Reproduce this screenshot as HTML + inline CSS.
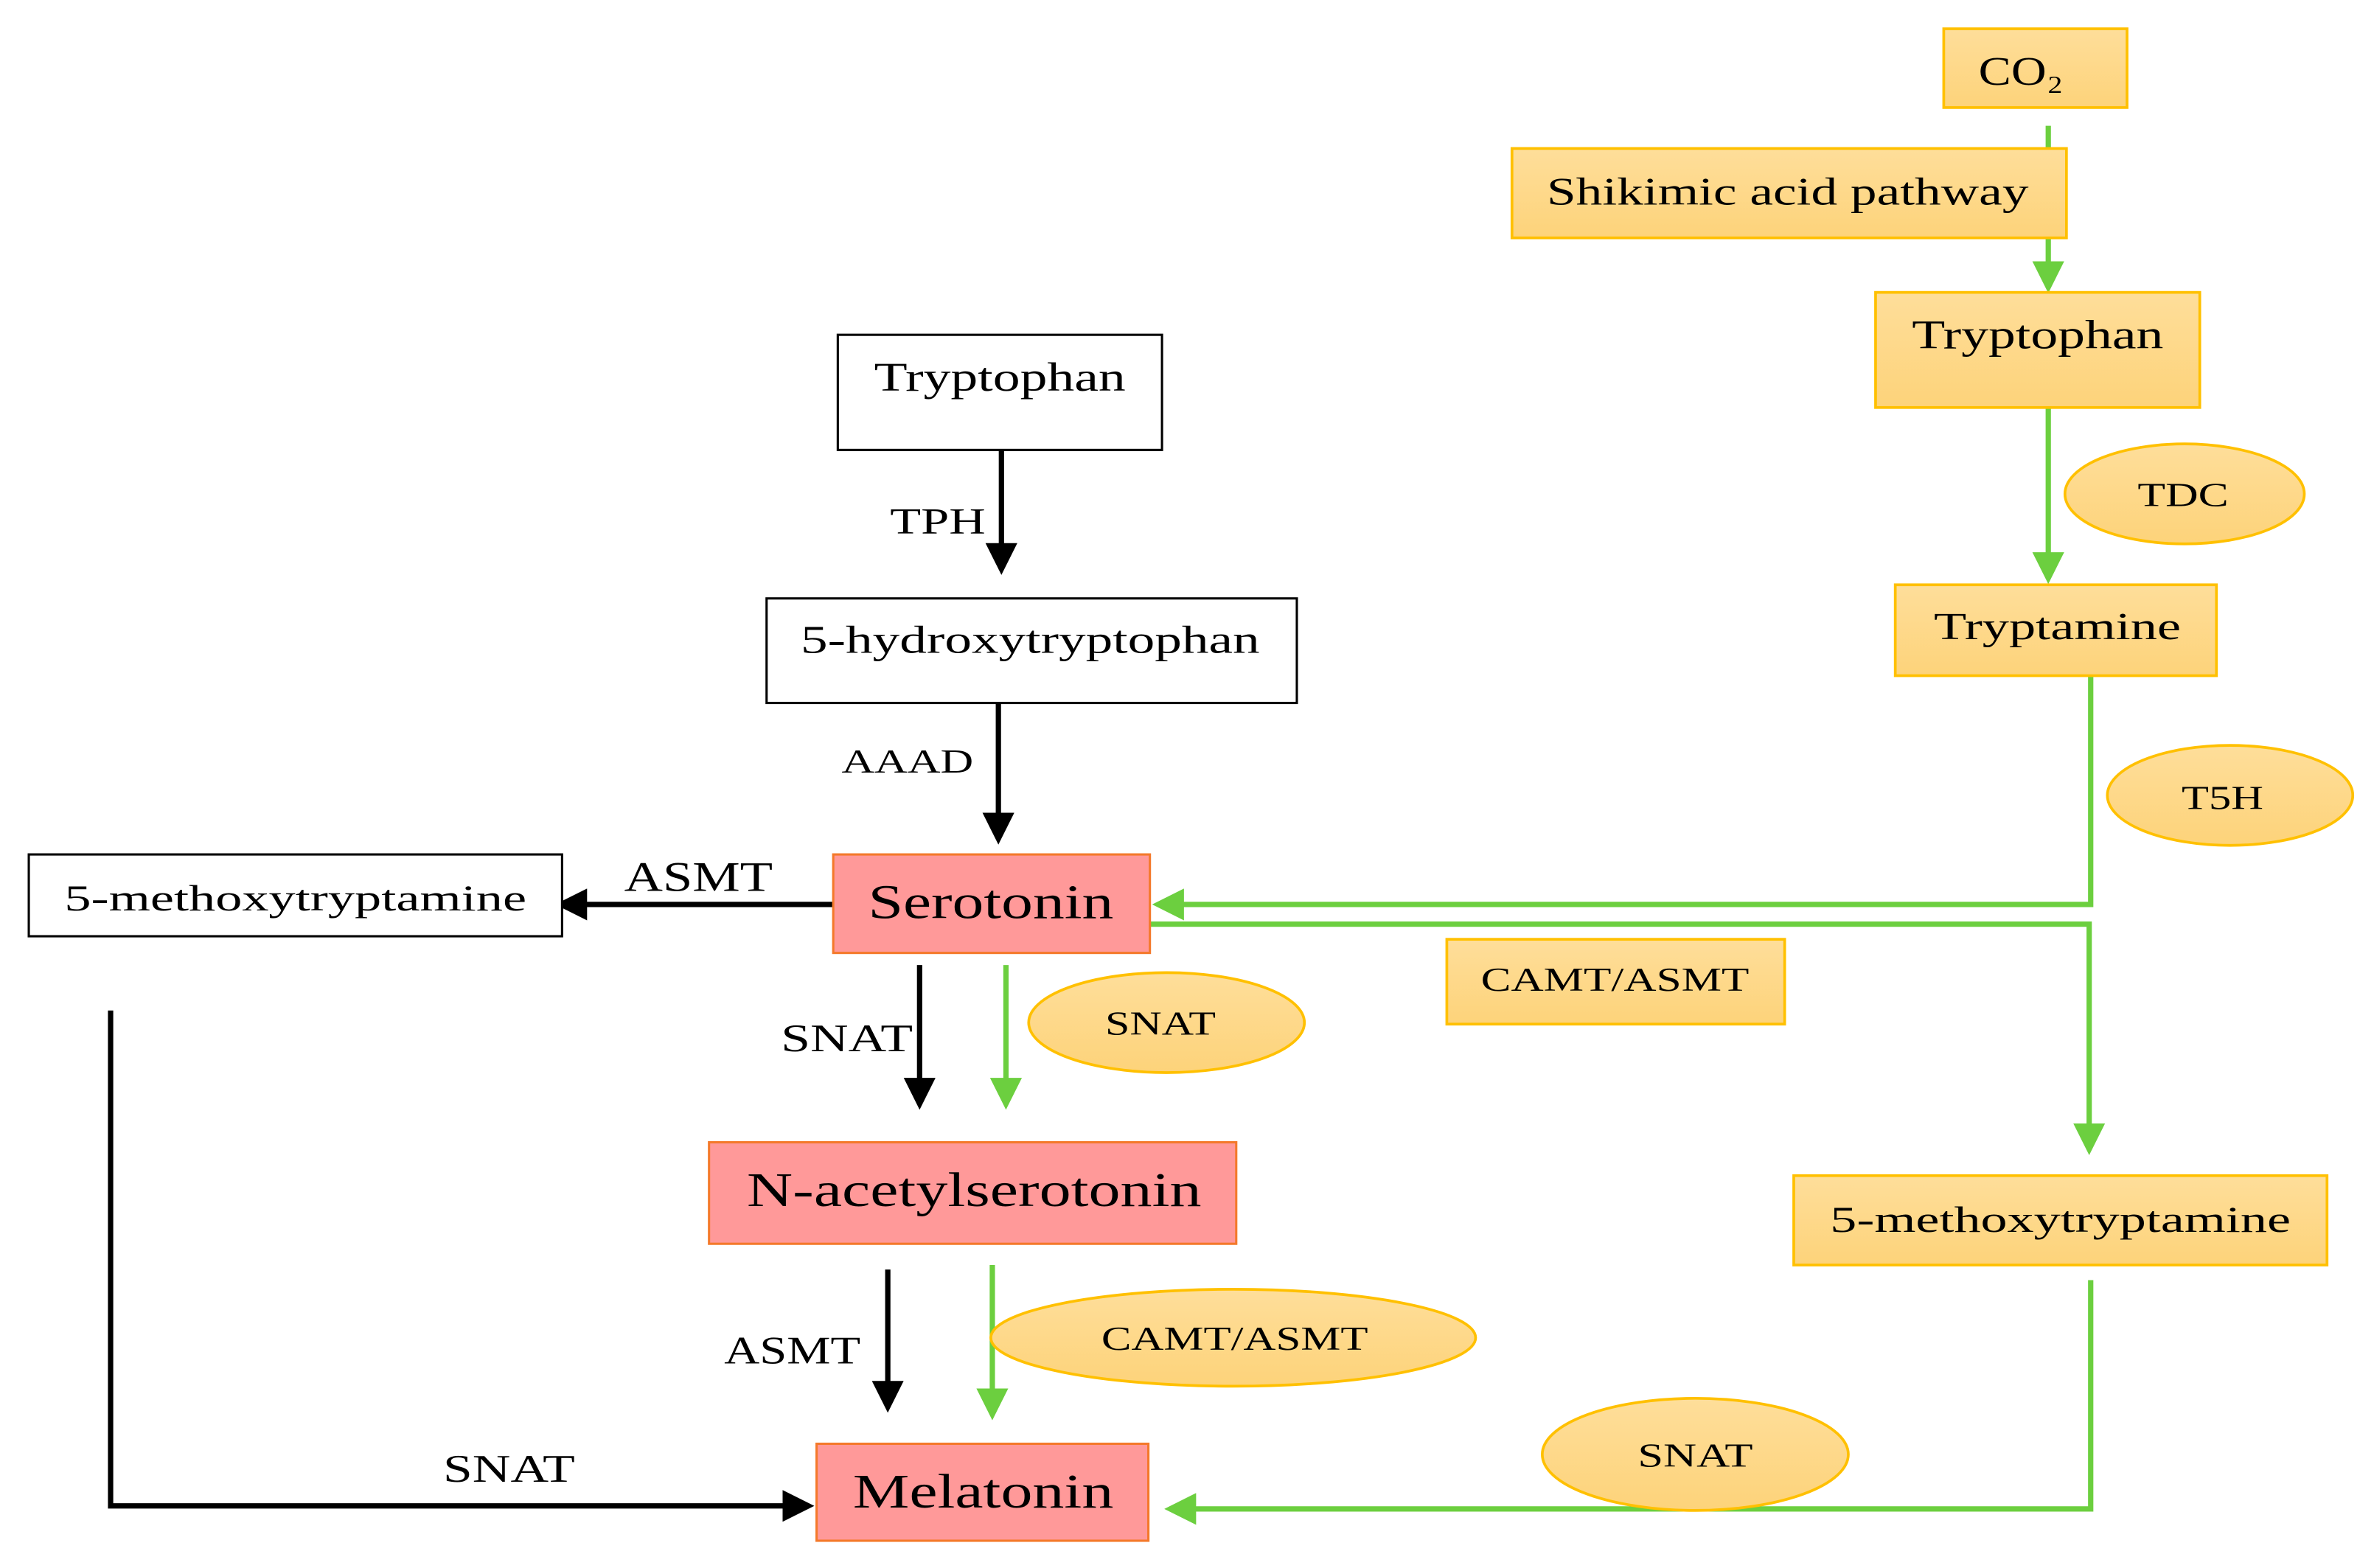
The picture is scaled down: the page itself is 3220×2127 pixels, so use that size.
<!DOCTYPE html>
<html><head><meta charset="utf-8"><style>html,body{margin:0;padding:0;background:#fff}svg{display:block}</style></head>
<body>
<svg width="3220" height="2127" viewBox="0 0 1567 1035" preserveAspectRatio="none" xmlns="http://www.w3.org/2000/svg" font-family="'Liberation Serif', serif" text-anchor="middle">
<defs>
<linearGradient id="og" x1="0" y1="0" x2="0" y2="1"><stop offset="0" stop-color="#FEDE9A"/><stop offset="1" stop-color="#FDD37A"/></linearGradient>
<marker id="ab" markerWidth="6" markerHeight="6" refX="5" refY="3" orient="auto" markerUnits="strokeWidth"><path d="M0,0 L6,3 L0,6 z" fill="#000"/></marker>
<marker id="ag" markerWidth="6" markerHeight="6" refX="5" refY="3" orient="auto" markerUnits="strokeWidth"><path d="M0,0 L6,3 L0,6 z" fill="#6CCF3F"/></marker>
</defs>
<g fill="none" stroke="#6CCF3F" stroke-width="3.5">
<path d="M1352,83 V190" marker-end="url(#ag)"/>
<path d="M1352,269 V382" marker-end="url(#ag)"/>
<path d="M1380,443 V597 H764" marker-end="url(#ag)"/>
<path d="M759,610 H1379 V759" marker-end="url(#ag)"/>
<path d="M1380,845 V996 H772" marker-end="url(#ag)"/>
<path d="M664,637 V729" marker-end="url(#ag)"/>
<path d="M655,835 V934" marker-end="url(#ag)"/>
</g>
<g fill="none" stroke="#000" stroke-width="3.5">
<path d="M661,293 V376" marker-end="url(#ab)"/>
<path d="M659,464 V554" marker-end="url(#ab)"/>
<path d="M550,597 H370" marker-end="url(#ab)"/>
<path d="M607,637 V729" marker-end="url(#ab)"/>
<path d="M586,838 V929" marker-end="url(#ab)"/>
<path d="M73,667 V994 H534" marker-end="url(#ab)"/>
</g>
<g fill="url(#og)" stroke="#FFC000" stroke-width="1.8">
<rect x="1283" y="19" width="121" height="52"/>
<rect x="998" y="98" width="366" height="59"/>
<rect x="1238" y="193" width="214" height="76"/>
<rect x="1251" y="386" width="212" height="60"/>
<rect x="955" y="620" width="223" height="56"/>
<rect x="1184" y="776" width="352" height="59"/>
<ellipse cx="1442" cy="326" rx="79" ry="33"/>
<ellipse cx="1472" cy="525" rx="81" ry="33"/>
<ellipse cx="770" cy="675" rx="91" ry="33"/>
<ellipse cx="814" cy="883" rx="160" ry="32"/>
<ellipse cx="1119" cy="960" rx="101" ry="37"/>
</g>
<g fill="#fff" stroke="#000" stroke-width="1.5">
<rect x="553" y="221" width="214" height="76"/>
<rect x="506" y="395" width="350" height="69"/>
<rect x="19" y="564" width="352" height="54"/>
</g>
<g fill="#FF9999" stroke="#F4792B" stroke-width="1.5">
<rect x="550" y="564" width="209" height="65"/>
<rect x="468" y="754" width="348" height="67"/>
<rect x="539" y="953" width="219" height="64"/>
</g>
<g fill="#000" font-size="24" lengthAdjust="spacingAndGlyphs">
<text x="1334" y="56" font-size="27" textLength="56" lengthAdjust="spacingAndGlyphs">CO₂</text>
<text x="1180" y="135" font-size="26" textLength="318" lengthAdjust="spacingAndGlyphs">Shikimic acid pathway</text>
<text x="1345" y="230" font-size="27" textLength="166" lengthAdjust="spacingAndGlyphs">Tryptophan</text>
<text x="1441" y="334" font-size="22" textLength="60" lengthAdjust="spacingAndGlyphs">TDC</text>
<text x="1358" y="422" font-size="25" textLength="163" lengthAdjust="spacingAndGlyphs">Tryptamine</text>
<text x="1467" y="534" font-size="22" textLength="54" lengthAdjust="spacingAndGlyphs">T5H</text>
<text x="1066" y="654" font-size="22" textLength="177" lengthAdjust="spacingAndGlyphs">CAMT/ASMT</text>
<text x="1360" y="813" font-size="24" textLength="304" lengthAdjust="spacingAndGlyphs">5-methoxytryptamine</text>
<text x="1119" y="968" font-size="22" textLength="76" lengthAdjust="spacingAndGlyphs">SNAT</text>
<text x="766" y="683" font-size="22" textLength="73" lengthAdjust="spacingAndGlyphs">SNAT</text>
<text x="815" y="891" font-size="22" textLength="176" lengthAdjust="spacingAndGlyphs">CAMT/ASMT</text>
<text x="660" y="258" font-size="27" textLength="166" lengthAdjust="spacingAndGlyphs">Tryptophan</text>
<text x="619" y="352" font-size="24" textLength="63" lengthAdjust="spacingAndGlyphs">TPH</text>
<text x="680" y="431" font-size="26" textLength="303" lengthAdjust="spacingAndGlyphs">5-hydroxytryptophan</text>
<text x="599" y="510" font-size="22" textLength="87" lengthAdjust="spacingAndGlyphs">AAAD</text>
<text x="654" y="606" font-size="32" textLength="162" lengthAdjust="spacingAndGlyphs">Serotonin</text>
<text x="461" y="588" font-size="28" textLength="98" lengthAdjust="spacingAndGlyphs">ASMT</text>
<text x="195" y="601" font-size="24" textLength="305" lengthAdjust="spacingAndGlyphs">5-methoxytryptamine</text>
<text x="559" y="694" font-size="26" textLength="87" lengthAdjust="spacingAndGlyphs">SNAT</text>
<text x="643" y="796" font-size="32" textLength="300" lengthAdjust="spacingAndGlyphs">N-acetylserotonin</text>
<text x="523" y="900" font-size="26" textLength="90" lengthAdjust="spacingAndGlyphs">ASMT</text>
<text x="649" y="995" font-size="32" textLength="172" lengthAdjust="spacingAndGlyphs">Melatonin</text>
<text x="336" y="978" font-size="26" textLength="87" lengthAdjust="spacingAndGlyphs">SNAT</text>
</g>
</svg>
</body></html>
